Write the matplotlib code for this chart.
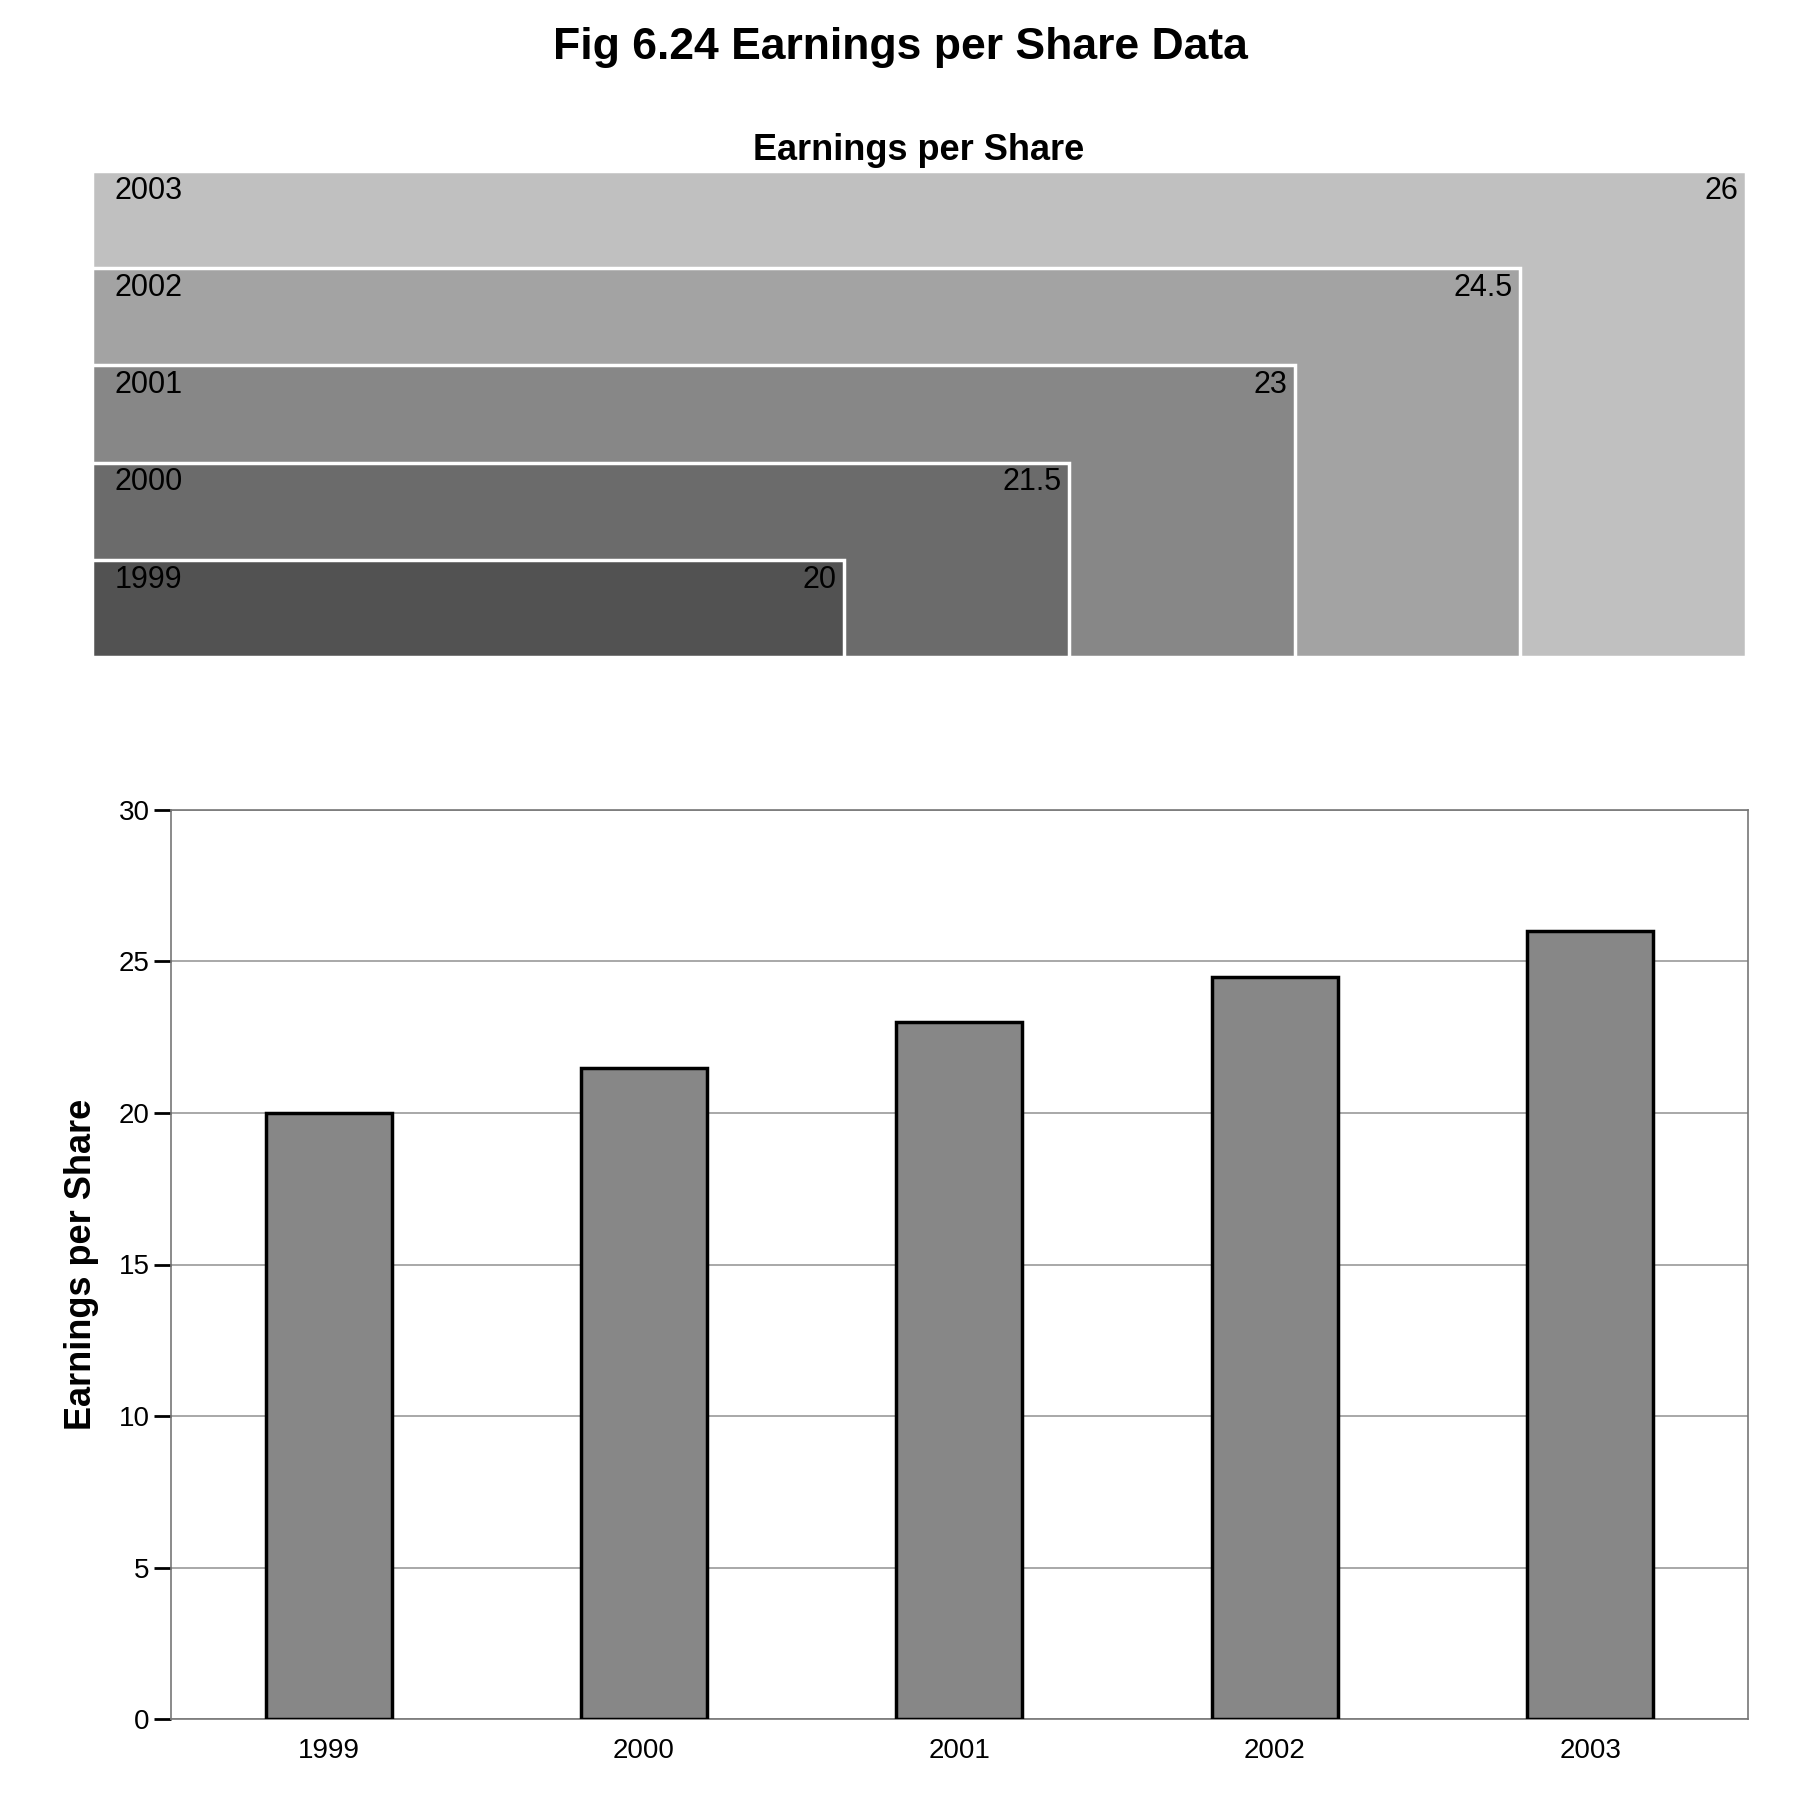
import matplotlib
matplotlib.use("Agg")
import matplotlib.pyplot as plt
from matplotlib.patches import Rectangle

years = ["1999", "2000", "2001", "2002", "2003"]
eps = [20, 21.5, 23, 24.5, 26]
shades = ["#525252", "#6b6b6b", "#878787", "#a3a3a3", "#c0c0c0"]

plt.rcParams['font.family'] = ['Liberation Sans', 'DejaVu Sans']
fig = plt.figure(figsize=(18, 18), dpi=100)
fig.suptitle("Fig 6.24 Earnings per Share Data", fontsize=32, fontweight='bold', y=0.985)

ax1 = fig.add_axes([0.051, 0.635, 0.919, 0.27])
xmin = 15
n = len(years)
for i in reversed(range(n)):
    ax1.add_patch(Rectangle((xmin, 0), eps[i] - xmin, i + 1, facecolor=shades[i],
                            edgecolor='white', linewidth=2.5))
    ax1.text(xmin + 0.15, i + 1 - 0.05, years[i], ha='left', va='top', fontsize=22)
    ax1.text(eps[i] - 0.05, i + 1 - 0.05, str(eps[i]).rstrip('0').rstrip('.') if eps[i] % 1 else str(int(eps[i])),
             ha='right', va='top', fontsize=22)
ax1.set_xlim(xmin, max(eps))
ax1.set_ylim(0, n)
ax1.axis('off')
ax1.set_title("Earnings per Share", fontsize=26, fontweight='bold', pad=8)

ax2 = fig.add_axes([0.095, 0.045, 0.876, 0.505])
x = list(range(n))
ax2.bar(x, eps, width=0.4, color="#878787", edgecolor='black', linewidth=2.5, zorder=3)
ax2.set_ylim(0, 30)
ax2.set_xlim(-0.5, n - 0.5)
ax2.set_xticks(x)
ax2.set_xticklabels(years)
ax2.set_yticks(range(0, 31, 5))
ax2.grid(axis='y', color='#999999', linewidth=1.2, zorder=0)
for s in ax2.spines.values():
    s.set_color('#777777')
    s.set_linewidth(1.2)
ax2.tick_params(axis='x', length=0, labelsize=20, pad=14)
ax2.tick_params(axis='y', length=12, width=2, labelsize=20)
ax2.set_ylabel("Earnings per Share", fontsize=26, fontweight='bold', labelpad=14)

fig.savefig("out.png", dpi=100)
